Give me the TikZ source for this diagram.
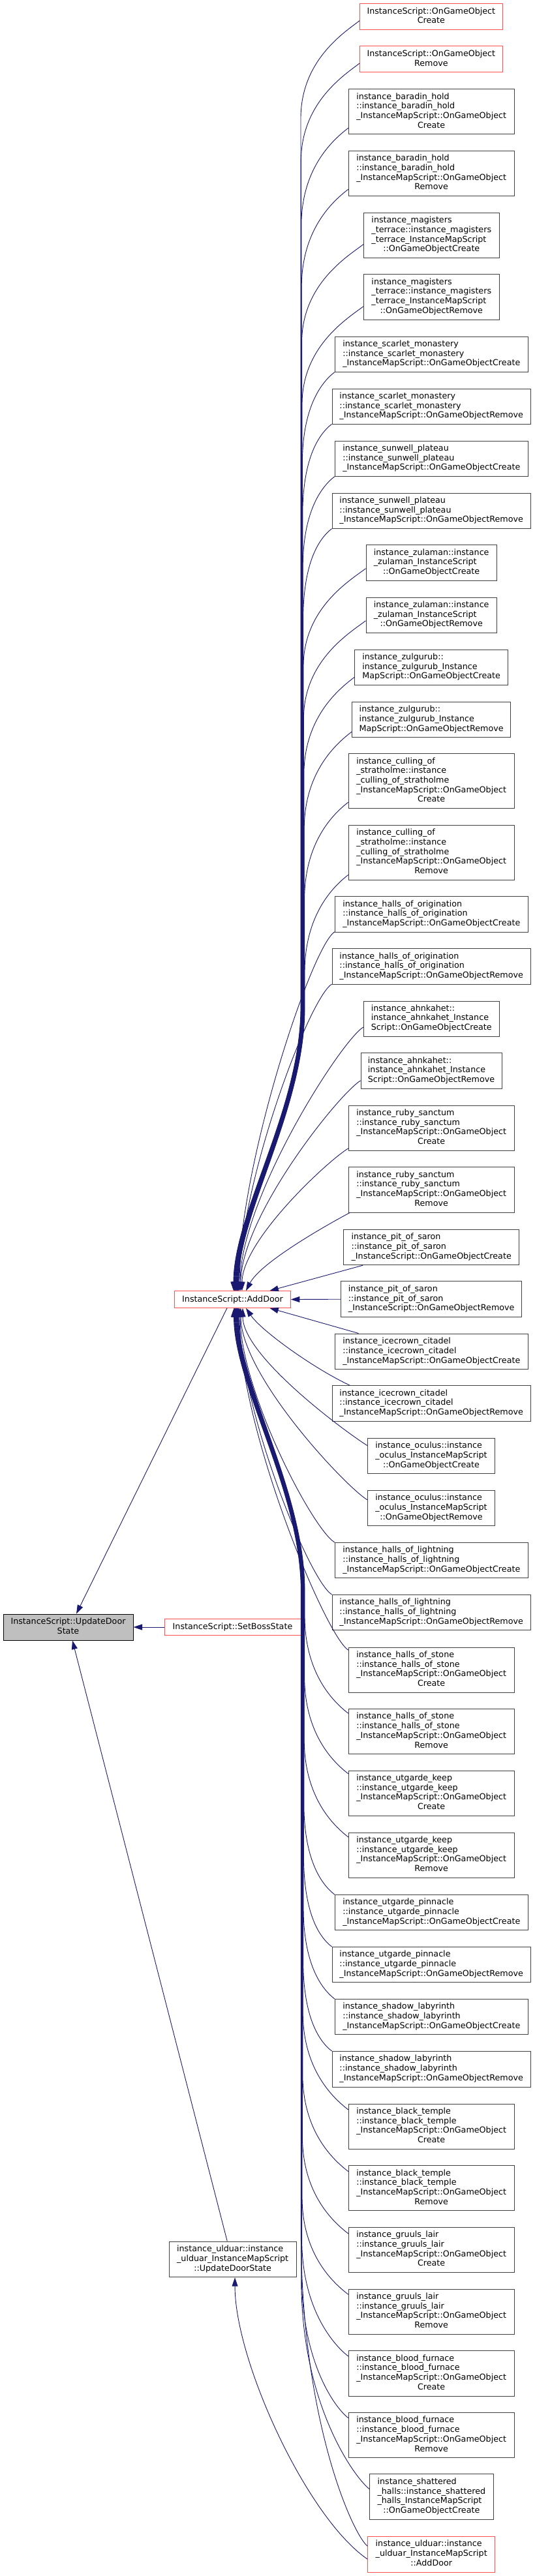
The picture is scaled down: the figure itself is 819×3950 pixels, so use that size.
\documentclass[tikz,border=0pt]{standalone}
\usepackage{fontspec}
\setmainfont{DejaVu Sans}
\usetikzlibrary{arrows.meta}
\definecolor{edgec}{HTML}{191970}
\definecolor{redb}{HTML}{FF4F4F}
\definecolor{boxb}{HTML}{404040}
\definecolor{rootfill}{HTML}{BFBFBF}
\newcommand\mylbl[2]{\begin{tabular}{@{}l@{}}#1\multicolumn{1}{@{}c@{}}{#2}\end{tabular}}
\newcommand\mkbox[7]{%
  \pgfmathsetmacro\mybw{#5-#3}%
  \pgfmathsetmacro\mybh{#6-#4}%
  \node[#1, minimum width=\mybw pt, minimum height=\mybh pt] (#2) at ({(#3+#5)/2},{(#4+#6)/2}) {#7};%
  \expandafter\xdef\csname bxt@#2\endcsname{#4}%
  \expandafter\xdef\csname bxb@#2\endcsname{#6}%
}
\newcommand\getstart[2]{%
  \edef\myt{\csname bxt@#1\endcsname}\edef\myb{\csname bxb@#1\endcsname}%
  \pgfmathsetmacro\mysy{\myt+#2*(\myb-\myt)}%
  \pgfmathsetmacro\mysh{(\myt+\myb)/2-\mysy}%
}
% upper far: name, frac, D, lane x, end x
\newcommand\ufar[5]{%
  \getstart{#1}{#2}%
  \pgfmathsetmacro\myjy{\mysy+#3}\pgfmathsetmacro\myqy{\mysy+0.4*#3}%
  \pgfmathsetmacro\myex{#5-356.5}%
  \draw[conn] ([yshift=\mysh pt]#1.west) .. controls +(-22,17) and (#4,\myqy) .. (#4,\myjy) -- (#4,1545) .. controls (#4,1700) and (#5,1860) .. ([xshift=\myex pt]ad.north);%
}
% lower far
\newcommand\lfar[5]{%
  \getstart{#1}{#2}%
  \pgfmathsetmacro\myjy{\mysy-#3}\pgfmathsetmacro\myqy{\mysy-0.4*#3}%
  \pgfmathsetmacro\myex{#5-356.5}%
  \draw[conn] ([yshift=\mysh pt]#1.west) .. controls +(-22,-17) and (#4,\myqy) .. (#4,\myjy) -- (#4,2440) .. controls (#4,2285) and (#5,2125) .. ([xshift=\myex pt]ad.south);%
}
% upper direct: name, frac, end x
\newcommand\udir[3]{%
  \getstart{#1}{#2}%
  \pgfmathsetmacro\mycy{1979.7-0.35*(1979.7-\mysy)}%
  \pgfmathsetmacro\myex{#3-356.5}%
  \draw[conn] ([yshift=\mysh pt]#1.west) .. controls +(-35,22) and (#3,\mycy) .. ([xshift=\myex pt]ad.north);%
}
% lower direct
\newcommand\ldir[3]{%
  \getstart{#1}{#2}%
  \pgfmathsetmacro\mycy{2005.3+0.35*(\mysy-2005.3)}%
  \pgfmathsetmacro\myex{#3-356.5}%
  \draw[conn] ([yshift=\mysh pt]#1.west) .. controls +(-35,-22) and (#3,\mycy) .. ([xshift=\myex pt]ad.south);%
}
\tikzset{
  nd/.style={draw=boxb, line width=1pt, inner sep=0pt, fill=white, font=\fontsize{12.7}{14.7}\selectfont},
  rd/.style={nd, draw=redb},
  gd/.style={nd, draw=black, fill=rootfill},
  conn/.style={draw=edgec, line width=0.9pt, -{Triangle[length=13.5pt,width=9pt]}},
}
\begin{document}
\begin{tikzpicture}[x=1pt,y=-1pt]
\useasboundingbox (0,0) rectangle (819,3950);
\fill[white] (0,0) rectangle (819,3950);
% left and middle
\mkbox{gd}{uds}{5}{2475}{204}{2515}{\mylbl{InstanceScript::UpdateDoor\\}{State}}
\mkbox{rd}{ad}{267.7}{1979.7}{445.3}{2005.3}{InstanceScript::AddDoor}
\mkbox{rd}{sbs}{252}{2482.2}{461}{2507.8}{InstanceScript::SetBossState}
\mkbox{nd}{uuds}{259}{3437}{454.3}{3491.7}{\mylbl{instance\_ulduar::instance\\\_ulduar\_InstanceMapScript\\}{::UpdateDoorState}}
% right column
\mkbox{rd}{isc}{551.7}{5.7}{770}{45.7}{\mylbl{InstanceScript::OnGameObject\\}{Create}}
\mkbox{rd}{isr}{551.7}{71}{770}{111}{\mylbl{InstanceScript::OnGameObject\\}{Remove}}
\mkbox{nd}{bhc}{534.3}{136.7}{788}{206}{\mylbl{instance\_baradin\_hold\\::instance\_baradin\_hold\\\_InstanceMapScript::OnGameObject\\}{Create}}
\mkbox{nd}{bhr}{534.3}{231}{788}{300.7}{\mylbl{instance\_baradin\_hold\\::instance\_baradin\_hold\\\_InstanceMapScript::OnGameObject\\}{Remove}}
\mkbox{nd}{mtc}{557.3}{326}{765.3}{395.7}{\mylbl{instance\_magisters\\\_terrace::instance\_magisters\\\_terrace\_InstanceMapScript\\}{::OnGameObjectCreate}}
\mkbox{nd}{mtr}{557.3}{420.7}{765.3}{490}{\mylbl{instance\_magisters\\\_terrace::instance\_magisters\\\_terrace\_InstanceMapScript\\}{::OnGameObjectRemove}}
\mkbox{nd}{smc}{513.3}{516}{809.3}{570.7}{\mylbl{instance\_scarlet\_monastery\\::instance\_scarlet\_monastery\\}{\_InstanceMapScript::OnGameObjectCreate}}
\mkbox{nd}{smr}{509}{596}{813.3}{650.3}{\mylbl{instance\_scarlet\_monastery\\::instance\_scarlet\_monastery\\}{\_InstanceMapScript::OnGameObjectRemove}}
\mkbox{nd}{spc}{513.3}{676}{809.3}{730.7}{\mylbl{instance\_sunwell\_plateau\\::instance\_sunwell\_plateau\\}{\_InstanceMapScript::OnGameObjectCreate}}
\mkbox{nd}{spr}{509}{756}{813.3}{810.7}{\mylbl{instance\_sunwell\_plateau\\::instance\_sunwell\_plateau\\}{\_InstanceMapScript::OnGameObjectRemove}}
\mkbox{nd}{zac}{561}{835.7}{761.3}{890.3}{\mylbl{instance\_zulaman::instance\\\_zulaman\_InstanceScript\\}{::OnGameObjectCreate}}
\mkbox{nd}{zar}{561}{916}{761.3}{970.3}{\mylbl{instance\_zulaman::instance\\\_zulaman\_InstanceScript\\}{::OnGameObjectRemove}}
\mkbox{nd}{zgc}{543.7}{996}{778.7}{1050.3}{\mylbl{instance\_zulgurub::\\instance\_zulgurub\_Instance\\}{MapScript::OnGameObjectCreate}}
\mkbox{nd}{zgr}{539.7}{1076}{782.7}{1130.7}{\mylbl{instance\_zulgurub::\\instance\_zulgurub\_Instance\\}{MapScript::OnGameObjectRemove}}
\mkbox{nd}{csc}{534.3}{1155.7}{788}{1239.3}{\mylbl{instance\_culling\_of\\\_stratholme::instance\\\_culling\_of\_stratholme\\\_InstanceMapScript::OnGameObject\\}{Create}}
\mkbox{nd}{csr}{534.3}{1265.3}{788}{1349}{\mylbl{instance\_culling\_of\\\_stratholme::instance\\\_culling\_of\_stratholme\\\_InstanceMapScript::OnGameObject\\}{Remove}}
\mkbox{nd}{hoc}{513.3}{1374.7}{809.3}{1429}{\mylbl{instance\_halls\_of\_origination\\::instance\_halls\_of\_origination\\}{\_InstanceMapScript::OnGameObjectCreate}}
\mkbox{nd}{hor}{509}{1454.7}{813.3}{1509}{\mylbl{instance\_halls\_of\_origination\\::instance\_halls\_of\_origination\\}{\_InstanceMapScript::OnGameObjectRemove}}
\mkbox{nd}{akc}{557.3}{1535}{765.3}{1589}{\mylbl{instance\_ahnkahet::\\instance\_ahnkahet\_Instance\\}{Script::OnGameObjectCreate}}
\mkbox{nd}{akr}{553}{1614.7}{769}{1669}{\mylbl{instance\_ahnkahet::\\instance\_ahnkahet\_Instance\\}{Script::OnGameObjectRemove}}
\mkbox{nd}{rsc}{534.3}{1695}{788}{1764.3}{\mylbl{instance\_ruby\_sanctum\\::instance\_ruby\_sanctum\\\_InstanceMapScript::OnGameObject\\}{Create}}
\mkbox{nd}{rsr}{534.3}{1789.7}{788}{1859}{\mylbl{instance\_ruby\_sanctum\\::instance\_ruby\_sanctum\\\_InstanceMapScript::OnGameObject\\}{Remove}}
\mkbox{nd}{psc}{526.7}{1885}{795.7}{1939.7}{\mylbl{instance\_pit\_of\_saron\\::instance\_pit\_of\_saron\\}{\_InstanceScript::OnGameObjectCreate}}
\mkbox{nd}{psr}{522.7}{1964.7}{799.7}{2019.7}{\mylbl{instance\_pit\_of\_saron\\::instance\_pit\_of\_saron\\}{\_InstanceScript::OnGameObjectRemove}}
\mkbox{nd}{icc}{513.3}{2045}{809.3}{2099.7}{\mylbl{instance\_icecrown\_citadel\\::instance\_icecrown\_citadel\\}{\_InstanceMapScript::OnGameObjectCreate}}
\mkbox{nd}{icr}{509}{2124.7}{813.3}{2179.3}{\mylbl{instance\_icecrown\_citadel\\::instance\_icecrown\_citadel\\}{\_InstanceMapScript::OnGameObjectRemove}}
\mkbox{nd}{occ}{563.3}{2205}{758.7}{2259.7}{\mylbl{instance\_oculus::instance\\\_oculus\_InstanceMapScript\\}{::OnGameObjectCreate}}
\mkbox{nd}{ocr}{563.3}{2285}{758.7}{2339.7}{\mylbl{instance\_oculus::instance\\\_oculus\_InstanceMapScript\\}{::OnGameObjectRemove}}
\mkbox{nd}{hlc}{513.3}{2365}{809.3}{2419.7}{\mylbl{instance\_halls\_of\_lightning\\::instance\_halls\_of\_lightning\\}{\_InstanceMapScript::OnGameObjectCreate}}
\mkbox{nd}{hlr}{509}{2445}{813.3}{2499.7}{\mylbl{instance\_halls\_of\_lightning\\::instance\_halls\_of\_lightning\\}{\_InstanceMapScript::OnGameObjectRemove}}
\mkbox{nd}{hsc}{534.3}{2526}{788}{2595.3}{\mylbl{instance\_halls\_of\_stone\\::instance\_halls\_of\_stone\\\_InstanceMapScript::OnGameObject\\}{Create}}
\mkbox{nd}{hsr}{534.3}{2620.3}{788}{2689.7}{\mylbl{instance\_halls\_of\_stone\\::instance\_halls\_of\_stone\\\_InstanceMapScript::OnGameObject\\}{Remove}}
\mkbox{nd}{ukc}{534.3}{2715}{788}{2784.3}{\mylbl{instance\_utgarde\_keep\\::instance\_utgarde\_keep\\\_InstanceMapScript::OnGameObject\\}{Create}}
\mkbox{nd}{ukr}{534.3}{2810}{788}{2879}{\mylbl{instance\_utgarde\_keep\\::instance\_utgarde\_keep\\\_InstanceMapScript::OnGameObject\\}{Remove}}
\mkbox{nd}{upc}{513.3}{2905}{809.3}{2959.7}{\mylbl{instance\_utgarde\_pinnacle\\::instance\_utgarde\_pinnacle\\}{\_InstanceMapScript::OnGameObjectCreate}}
\mkbox{nd}{upr}{509}{2985}{813.3}{3039.7}{\mylbl{instance\_utgarde\_pinnacle\\::instance\_utgarde\_pinnacle\\}{\_InstanceMapScript::OnGameObjectRemove}}
\mkbox{nd}{slc}{513.3}{3065}{809.3}{3119.7}{\mylbl{instance\_shadow\_labyrinth\\::instance\_shadow\_labyrinth\\}{\_InstanceMapScript::OnGameObjectCreate}}
\mkbox{nd}{slr}{509}{3145}{813.3}{3200}{\mylbl{instance\_shadow\_labyrinth\\::instance\_shadow\_labyrinth\\}{\_InstanceMapScript::OnGameObjectRemove}}
\mkbox{nd}{btc}{534.3}{3226}{788}{3295}{\mylbl{instance\_black\_temple\\::instance\_black\_temple\\\_InstanceMapScript::OnGameObject\\}{Create}}
\mkbox{nd}{btr}{534.3}{3320.7}{788}{3389.7}{\mylbl{instance\_black\_temple\\::instance\_black\_temple\\\_InstanceMapScript::OnGameObject\\}{Remove}}
\mkbox{nd}{glc}{534.3}{3415.3}{788}{3484.3}{\mylbl{instance\_gruuls\_lair\\::instance\_gruuls\_lair\\\_InstanceMapScript::OnGameObject\\}{Create}}
\mkbox{nd}{glr}{534.3}{3510}{788}{3579}{\mylbl{instance\_gruuls\_lair\\::instance\_gruuls\_lair\\\_InstanceMapScript::OnGameObject\\}{Remove}}
\mkbox{nd}{bfc}{534.3}{3604.7}{788}{3674}{\mylbl{instance\_blood\_furnace\\::instance\_blood\_furnace\\\_InstanceMapScript::OnGameObject\\}{Create}}
\mkbox{nd}{bfr}{534.3}{3699.3}{788}{3768.7}{\mylbl{instance\_blood\_furnace\\::instance\_blood\_furnace\\\_InstanceMapScript::OnGameObject\\}{Remove}}
\mkbox{nd}{shc}{566.7}{3793.7}{756}{3863.3}{\mylbl{instance\_shattered\\\_halls::instance\_shattered\\\_halls\_InstanceMapScript\\}{::OnGameObjectCreate}}
\mkbox{rd}{uad}{563.7}{3889.3}{758.7}{3944}{\mylbl{instance\_ulduar::instance\\\_ulduar\_InstanceMapScript\\}{::AddDoor}}
% edges into AddDoor from above
\ufar{isc}{0.65}{150}{461.0}{358}
\ufar{isr}{0.65}{150}{461.4}{358.5}
\ufar{bhc}{0.86}{150}{461.8}{359}
\ufar{bhr}{0.85}{150}{462.2}{359.5}
\ufar{mtc}{0.70}{150}{462.6}{360}
\ufar{mtr}{0.71}{150}{463.0}{360.5}
\ufar{smc}{1.0}{140}{463.4}{361}
\ufar{smr}{1.0}{140}{463.8}{361.5}
\ufar{spc}{1.0}{140}{464.2}{362}
\ufar{spr}{1.0}{140}{464.6}{362.5}
\ufar{zac}{0.66}{150}{465.0}{363}
\ufar{zar}{0.66}{150}{465.4}{363.5}
\ufar{zgc}{0.78}{150}{465.8}{364}
\ufar{zgr}{0.84}{150}{466.2}{364.5}
\ufar{csc}{0.89}{150}{466.6}{365}
\ufar{csr}{0.91}{150}{467.0}{365.5}
\udir{hoc}{1.0}{366}
\udir{hor}{1.0}{367}
\udir{akc}{0.74}{368}
\udir{akr}{0.78}{369}
\udir{rsc}{0.95}{371}
\draw[conn] ([xshift=2.4pt]rsr.south west) .. controls (505,1876) and (400,1935) .. ([xshift=20.5pt]ad.north);
\draw[conn] ([xshift=30pt]psc.south west) -- ([xshift=56.8pt]ad.north);
\draw[conn] (psr.west) -- (ad.east);
\draw[conn] ([xshift=36.7pt]icc.north west) -- ([xshift=56.8pt]ad.south);
\draw[conn] ([xshift=27.7pt]icr.north west) .. controls (480,2098) and (400,2040) .. ([xshift=20.5pt]ad.south);
% edges into AddDoor from below
\ldir{occ}{0.21}{372}
\ldir{ocr}{0.27}{369}
\ldir{hlc}{0.0}{368}
\ldir{hlr}{0.0}{367}
\ldir{hsc}{0.06}{366}
\lfar{hsr}{0.10}{150}{467.0}{365.5}
\lfar{ukc}{0.07}{150}{466.6}{365}
\lfar{ukr}{0.10}{150}{466.2}{364.5}
\lfar{upc}{0.0}{140}{465.8}{364}
\lfar{upr}{0.0}{140}{465.4}{363.5}
\lfar{slc}{0.0}{140}{465.0}{363}
\lfar{slr}{0.0}{140}{464.6}{362.5}
\lfar{btc}{0.13}{150}{464.2}{362}
\lfar{btr}{0.13}{150}{463.8}{361.5}
\lfar{glc}{0.14}{150}{463.4}{361}
\lfar{glr}{0.12}{150}{463.0}{360.5}
\lfar{bfc}{0.12}{180}{462.6}{360}
\lfar{bfr}{0.12}{220}{462.2}{359.5}
\lfar{shc}{0.33}{320}{461.8}{359}
\lfar{uad}{0.27}{480}{461.4}{358.5}
% edges into UpdateDoorState and the ulduar UpdateDoorState
\draw[conn] ([xshift=-8.5pt]ad.south) -- ([xshift=12.5pt]uds.north);
\draw[conn] (sbs.west) -- (uds.east);
\draw[conn] ([xshift=-8.4pt]uuds.north) -- ([xshift=6.5pt]uds.south);
\draw[conn] ([yshift=-7.5pt]uad.west) .. controls (470,3860) and (360,3620) .. ([xshift=3.4pt]uuds.south);
\end{tikzpicture}
\end{document}
